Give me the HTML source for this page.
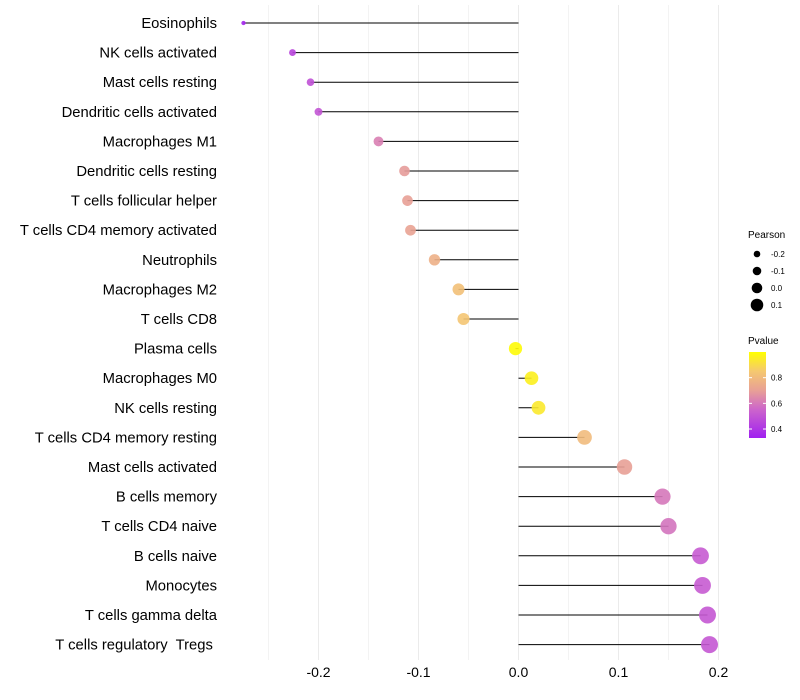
<!DOCTYPE html>
<html><head><meta charset="utf-8"><style>
html,body{margin:0;padding:0;background:#fff;}
svg{display:block;font-family:"Liberation Sans",sans-serif;}
</style></head><body>
<svg id="chart" width="800" height="700"></svg>
<script>
const categories=["Eosinophils","NK cells activated","Mast cells resting","Dendritic cells activated","Macrophages M1","Dendritic cells resting","T cells follicular helper","T cells CD4 memory activated","Neutrophils","Macrophages M2","T cells CD8","Plasma cells","Macrophages M0","NK cells resting","T cells CD4 memory resting","Mast cells activated","B cells memory","T cells CD4 naive","B cells naive","Monocytes","T cells gamma delta","T cells regulatory  Tregs "];
const pearson=[-0.275,-0.226,-0.208,-0.200,-0.140,-0.114,-0.111,-0.108,-0.084,-0.060,-0.055,-0.003,0.013,0.020,0.066,0.106,0.144,0.150,0.182,0.184,0.189,0.191];
const pvalues=[0.35,0.45,0.49,0.50,0.62,0.69,0.70,0.71,0.76,0.82,0.84,0.99,0.96,0.94,0.80,0.70,0.60,0.59,0.52,0.52,0.51,0.51];
const xTicks=[-0.2,-0.1,0.0,0.1,0.2];
const xTickLabels=["-0.2","-0.1","0.0","0.1","0.2"];
const sizeLegend=[-0.2,-0.1,0.0,0.1];
const colorLegendTicks=[0.4,0.6,0.8];

const NS="http://www.w3.org/2000/svg";
const svg=document.getElementById('chart');
function mk(t,a,p){const e=document.createElementNS(NS,t);for(const k in a)e.setAttribute(k,a[k]);(p||svg).appendChild(e);return e;}
const x=v=>518.5+v*1000;
const y=i=>23+i*29.6;
const rad=v=>Math.sqrt(Math.max(2,4+(v+0.28)*145));
const stops=[[0.33,[160,32,240]],[0.55,[204,100,204]],[0.7,[232,160,150]],[0.85,[245,200,112]],[1.0,[255,255,0]]];
function col(p){p=Math.max(0.33,Math.min(1,p));for(let i=0;i<stops.length-1;i++){const [a,ca]=stops[i],[b,cb]=stops[i+1];if(p<=b){const t=(p-a)/(b-a);return 'rgb('+ca.map((c,j)=>Math.round(c+(cb[j]-c)*t)).join(',')+')';}}return 'rgb(255,255,0)';}

for(let g=-0.25;g<=0.2001;g+=0.05){const l=mk('line',{x1:x(g),x2:x(g),y1:5,y2:660,stroke:'#ebebeb','stroke-width':Math.abs(Math.round(g*100)%10)<1?1:0.6});

}

categories.forEach((c,i)=>{
  const t=mk('text',{x:217,y:y(i)+5,'text-anchor':'end','font-size':14.8,fill:'#000','xml:space':'preserve'});t.style.whiteSpace='pre';t.textContent=c;
  
  
  const l=mk('line',{x1:x(0),x2:x(pearson[i]),y1:y(i),y2:y(i),stroke:'#000','stroke-width':1});
  
  
  const d=mk('circle',{cx:x(pearson[i]),cy:y(i),r:rad(pearson[i]),fill:col(pvalues[i]),'fill-opacity':0.9});
  
  
});

xTicks.forEach((v,i)=>{const t=mk('text',{x:x(v),y:677,'text-anchor':'middle','font-size':14,fill:'#000'});t.textContent=xTickLabels[i];

});

const lt=mk('text',{x:748,y:238,'font-size':10});lt.textContent='Pearson';


sizeLegend.forEach((v,i)=>{const cy=254+i*17;
const c=mk('circle',{cx:757,cy:cy,r:3.3+i*1,fill:'#000'});


const t=mk('text',{x:771,y:cy+3,'font-size':8});t.textContent=v.toFixed(1).replace('-0.0','0.0');

});
const pt=mk('text',{x:748,y:344,'font-size':10});pt.textContent='Pvalue';


const defs=mk('defs',{});const lg=mk('linearGradient',{id:'pg',x1:0,y1:1,x2:0,y2:0},defs);
stops.forEach(s=>mk('stop',{offset:(s[0]-0.33)/0.67,'stop-color':'rgb('+s[1].join(',')+')'},lg));
const bar=mk('rect',{x:749,y:352,width:17,height:86,fill:'url(#pg)'});


colorLegendTicks.forEach(v=>{const yy=438-(v-0.33)/0.67*86;
mk('line',{x1:749,x2:752,y1:yy,y2:yy,stroke:'#fff'});mk('line',{x1:763,x2:766,y1:yy,y2:yy,stroke:'#fff'});
const t=mk('text',{x:771,y:yy+3,'font-size':8});t.textContent=v.toFixed(1);

});
</script>
</body></html>
